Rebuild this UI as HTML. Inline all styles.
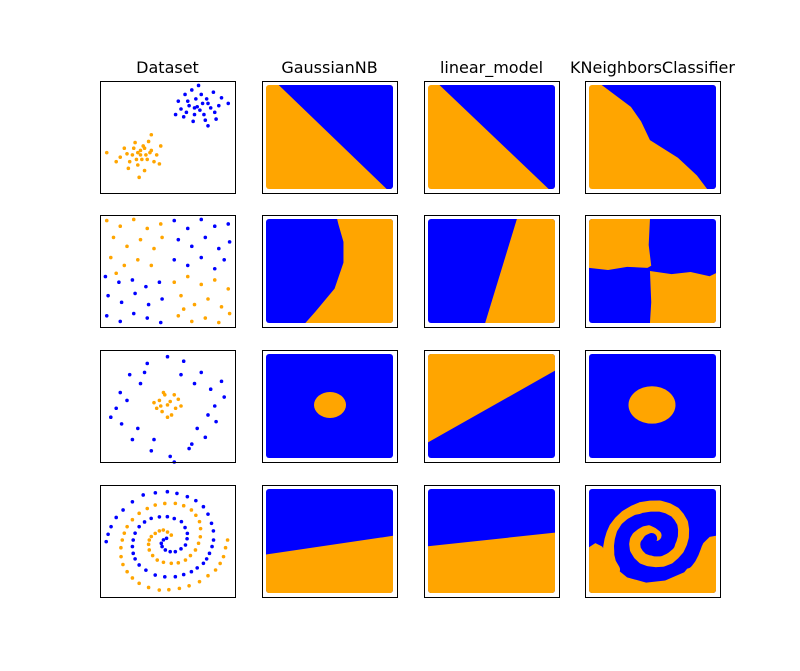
<!DOCTYPE html>
<html><head><meta charset="utf-8"><style>
html,body{margin:0;padding:0;background:#fff;}
svg{display:block;}
text{font-family:"DejaVu Sans","Liberation Sans",sans-serif;font-size:16px;fill:#000;}
</style></head><body>
<svg id="fig" width="800" height="671" viewBox="0 0 800 671" xmlns="http://www.w3.org/2000/svg">
<defs id="defs"></defs>
</svg>
<script>
// ---- data (panel units 0..100 in x and y, y downward) ----
const titles = ["Dataset","GaussianNB","linear_model","KNeighborsClassifier"];
const blobsBlue = [[72,23],[65,18],[80,20],[70,30],[60,25],[85,28],[75,12],[68,8],[90,15],[78,35],[62,32],[74,26],[82,24],[66,22],[71,16],[88,22],[58,18],[77,30],[69,36],[84,10],[73,4],[95,20],[64,28],[80,40],[56,30],[76,20],[70,24],[86,34],[63,12],[79,16]];
const blobsOrange = [[30,66],[25,60],[35,70],[20,65],[38,62],[28,75],[32,58],[15,68],[42,66],[27,70],[33,80],[22,72],[36,54],[45,58],[30,62],[24,66],[40,72],[18,60],[5,64],[34,66],[29,86],[38,48],[26,55],[44,74],[31,70],[21,78],[37,64],[12,72],[28,64],[33,60]];
const xorOrange = [[5,5],[15,10],[25,4],[35,12],[45,8],[10,20],[20,28],[30,22],[40,30],[8,38],[18,45],[28,40],[38,45],[12,52],[46,20],[55,60],[65,55],[75,62],[85,58],[95,66],[60,72],[70,80],[80,75],[90,82],[58,90],[68,95],[78,92],[88,96],[96,88],[62,84]];
const xorBlue = [[55,5],[65,12],[75,4],[85,10],[95,8],[58,22],[68,28],[78,20],[88,30],[96,24],[55,40],[65,45],[75,38],[85,48],[92,40],[4,55],[14,60],[24,58],[34,64],[44,60],[6,72],[16,78],[26,70],[36,80],[46,75],[5,90],[15,95],[25,88],[35,92],[45,96]];
const circOrange = [[50,49],[44,45],[56,52],[48,40],[53,58],[42,52],[58,44],[46,55],[52,46],[40,47],[60,50],[50,60],[47,38],[55,40],[45,50]];
const circBlue = [[85,50],[82,35],[75,20],[62,10],[50,6],[35,12],[22,22],[15,38],[12,52],[16,66],[24,80],[38,90],[52,95],[66,88],[78,78],[86,64],[92,42],[70,30],[30,30],[28,70],[72,70],[60,22],[40,80],[20,45],[80,58],[55,100],[8,60],[90,28],[33,20],[68,84]];
const spiralBlue = [[4.6,50.6],[6,44],[8.2,37.2],[12,29],[17.1,22.3],[24,15],[32,8.9],[41,7],[49.9,6],[57,7.5],[64.7,10.4],[71,14],[76.6,19.4],[80,26],[82.6,34.2],[84,41],[84.1,49.1],[83,55],[81.1,61],[79,66],[76.6,69.9],[72,74],[67.7,77.4],[62,80],[55.8,81.9],[48,82],[40.9,80.4],[34,76],[29,71.4],[26,66],[24.6,61],[24,55],[24.6,49.1],[26,43],[29,37.2],[33,33],[37.9,29.8],[44,28.5],[49.9,28.3],[55,30],[60.3,32.7],[63,38],[64.7,43.2],[64.5,48],[63.3,53.6],[60,57],[55.8,59.5],[52,59.5],[48.4,58],[46,55],[45.4,52.1],[47,49],[49.3,47.6]];
const spiralOrange = [[94.5,49.1],[93,56],[91.5,64],[89,70],[85.6,75.9],[80,81],[73.7,86.3],[66,90],[58.8,92.3],[51,93.5],[43.9,93.8],[36,91.5],[29,87.8],[24,83],[20.1,77.4],[17,71],[15.6,64],[15.5,56],[16.5,49.1],[18,43],[20.1,37.2],[24,31],[29,25.3],[35,21],[40.9,17.9],[48,16.5],[55.8,16.4],[62,18.5],[67.7,22.3],[71,27],[73.7,32.7],[74.5,39],[74.3,46.2],[73,52],[70.7,58],[67,63],[63.3,67],[58,69.5],[52.8,69.9],[47,69],[42.4,67],[39,63],[36.5,58],[36,53],[36.5,49.1],[38,46],[40.9,43.2],[44,41],[46.9,40.2],[50,42],[52.8,44.7]];
// decision regions
const r1GnbBlue = [[10,0],[100,0],[100,100],[95,100]];
const r1LinBlue = [[9,0],[100,0],[100,100],[95,100]];
const r1KnnBlue = [[10,0],[100,0],[100,100],[93,100],[85,87],[70,70],[48,53],[41,35],[33,21]];
const r2GnbOrange = [[56,0],[100,0],[100,100],[31,100],[39,89],[54,67],[61,42],[61,22],[57,5]];
const r2LinOrange = [[70,0],[100,0],[100,100],[45,100]];
const r2KnnOrangeTL = [[0,0],[48,0],[47,25],[49,45],[46,47],[30,46],[15,49],[0,47]];
const r2KnnOrangeBR = [[48,50],[65,53],[80,51],[95,55],[100,52],[100,100],[48,100],[49,80]];
const r3GnbOrange = [50.4,49,12.6,12.5];
const r3LinOrange = [[0,0],[100,0],[100,16],[0,85]];
const r3KnnOrange = [49.6,49,18.5,18];
const r4GnbOrange = [[0,63],[100,45],[100,100],[0,100]];
const r4LinOrange = [[0,55],[100,42],[100,100],[0,100]];
const r4KnnOrange = [[0,56],[5,52],[10,55],[15,62],[20,75],[30,85],[45,90],[60,88],[75,80],[85,65],[90,52],[95,46],[100,45],[100,100],[0,100]];

const BLUE="#0000ff", ORANGE="#ffa500";
const colX=[100,262,424,585], rowY=[81,215,350,485], PW=135, PH=112;
const NS="http://www.w3.org/2000/svg";
const svg=document.getElementById('fig'), defs=document.getElementById('defs');
function mk(tag,attrs,parent){const e=document.createElementNS(NS,tag);for(const k in attrs)e.setAttribute(k,attrs[k]);(parent||svg).appendChild(e);return e;}
function sx(c,v){return colX[c]+v/100*PW;}
function sy(r,v){return rowY[r]+v/100*PH;}
function rx(c,v){return colX[c]+4+v/100*(PW-8);}
function ry(r,v){return rowY[r]+4+v/100*(PH-8);}

titles.forEach((t,c)=>{
  const e=mk('text',{x:colX[c]+PW/2,y:73,'text-anchor':'middle'});
  e.textContent=t;
  
  
});

function panel(r,c){
  const g=mk('g',{});
  
  
  return g;
}
function frame(g,r,c){
  const f=mk('rect',{x:colX[c]+0.5,y:rowY[r]+0.5,width:PW,height:PH,fill:'none',stroke:'#000','stroke-width':1},g);
  
  
}
function scatter(g,r,c,pts,col,name){
  const sg=mk('g',{},g);
  
  
  pts.forEach(p=>{
    const d=mk('circle',{cx:sx(c,p[0]),cy:sy(r,p[1]),r:1.8,fill:col},sg);
    
    
  });
}
function regionBase(g,r,c,bg){
  const id='clip'+r+c;
  const cp=mk('clipPath',{id:id},defs);
  mk('rect',{x:colX[c]+4,y:rowY[r]+4,width:PW-8,height:PH-8,rx:3},cp);
  const b=mk('rect',{x:colX[c]+4,y:rowY[r]+4,width:PW-8,height:PH-8,rx:3,fill:bg},g);
  
  
  return mk('g',{'clip-path':'url(#'+id+')'},g);
}
function poly(cg,r,c,pts,col,name){
  const p=mk('polygon',{points:pts.map(q=>rx(c,q[0])+','+ry(r,q[1])).join(' '),fill:col},cg);
  
  
}
function ell(cg,r,c,e,col,name){
  const el=mk('ellipse',{cx:rx(c,e[0]),cy:ry(r,e[1]),rx:e[2]/100*(PW-8),ry:e[3]/100*(PH-8),fill:col},cg);
  
  
}
function arm(cg,r,c,pts,col,name,w){
  const pl=mk('polyline',{points:pts.map(q=>rx(c,q[0])+','+ry(r,q[1])).join(' '),fill:'none',stroke:col,'stroke-width':w,'stroke-linejoin':'round','stroke-linecap':'round'},cg);
  
  
}

let g=panel(0,0); scatter(g,0,0,blobsBlue,BLUE,'blob-blue-points'); scatter(g,0,0,blobsOrange,ORANGE,'blob-orange-points'); frame(g,0,0);
g=panel(0,1); poly(regionBase(g,0,1,ORANGE),0,1,r1GnbBlue,BLUE,'gnb-blue-region'); frame(g,0,1);
g=panel(0,2); poly(regionBase(g,0,2,ORANGE),0,2,r1LinBlue,BLUE,'linear-blue-region'); frame(g,0,2);
g=panel(0,3); poly(regionBase(g,0,3,ORANGE),0,3,r1KnnBlue,BLUE,'knn-blue-region'); frame(g,0,3);
g=panel(1,0); scatter(g,1,0,xorOrange,ORANGE,'xor-orange-points'); scatter(g,1,0,xorBlue,BLUE,'xor-blue-points'); frame(g,1,0);
g=panel(1,1); poly(regionBase(g,1,1,BLUE),1,1,r2GnbOrange,ORANGE,'gnb-orange-region'); frame(g,1,1);
g=panel(1,2); poly(regionBase(g,1,2,BLUE),1,2,r2LinOrange,ORANGE,'linear-orange-region'); frame(g,1,2);
g=panel(1,3); {const cg=regionBase(g,1,3,BLUE); poly(cg,1,3,r2KnnOrangeTL,ORANGE,'knn-orange-region-tl'); poly(cg,1,3,r2KnnOrangeBR,ORANGE,'knn-orange-region-br');} frame(g,1,3);
g=panel(2,0); scatter(g,2,0,circBlue,BLUE,'circle-blue-points'); scatter(g,2,0,circOrange,ORANGE,'circle-orange-points'); frame(g,2,0);
g=panel(2,1); ell(regionBase(g,2,1,BLUE),2,1,r3GnbOrange,ORANGE,'gnb-orange-region'); frame(g,2,1);
g=panel(2,2); poly(regionBase(g,2,2,BLUE),2,2,r3LinOrange,ORANGE,'linear-orange-region'); frame(g,2,2);
g=panel(2,3); ell(regionBase(g,2,3,BLUE),2,3,r3KnnOrange,ORANGE,'knn-orange-region'); frame(g,2,3);
g=panel(3,0); scatter(g,3,0,spiralBlue,BLUE,'spiral-blue-points'); scatter(g,3,0,spiralOrange,ORANGE,'spiral-orange-points'); frame(g,3,0);
g=panel(3,1); poly(regionBase(g,3,1,BLUE),3,1,r4GnbOrange,ORANGE,'gnb-orange-region'); frame(g,3,1);
g=panel(3,2); poly(regionBase(g,3,2,BLUE),3,2,r4LinOrange,ORANGE,'linear-orange-region'); frame(g,3,2);
g=panel(3,3); {const cg=regionBase(g,3,3,BLUE); poly(cg,3,3,r4KnnOrange,ORANGE,'knn-orange-region');
  arm(cg,3,3,spiralBlue.slice(12,21),BLUE,'knn-blue-outer-arm',14);
  arm(cg,3,3,spiralOrange.slice(14),ORANGE,'knn-orange-spiral-arm',11);
  arm(cg,3,3,spiralBlue.slice(20),BLUE,'knn-blue-spiral-arm',11);} frame(g,3,3);
</script>
</body></html>
